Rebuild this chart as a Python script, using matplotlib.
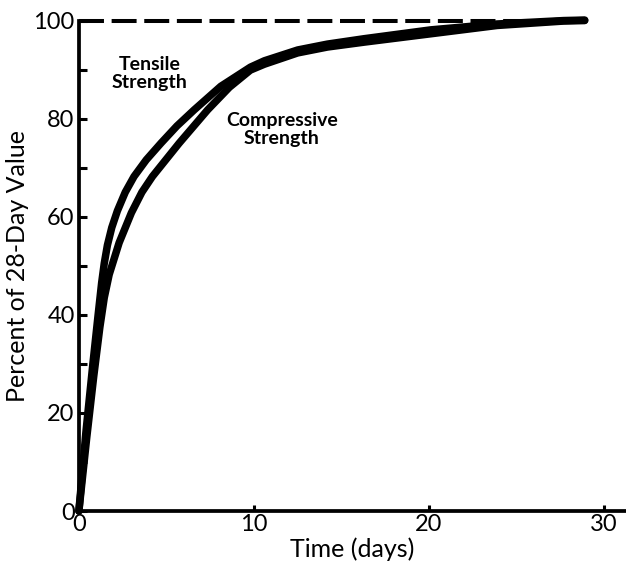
import matplotlib
matplotlib.use("Agg")
import matplotlib.pyplot as plt

plt.rcParams['font.family'] = ['Lato', 'DejaVu Sans']

# Strength gain as percent of the 28-day value
tensile_days = [0, 0.4, 0.8, 1.1, 1.3, 1.45, 1.63, 1.88, 2.2, 2.65, 3.15, 3.85, 4.69,
                5.6, 6.59, 8.11, 9.8, 10.6, 12.5, 14.2, 16.3, 20.1, 23.9, 27.7, 28.9]
tensile_pct = [0, 16, 30, 40, 46.5, 50.5, 54.2, 57.8, 61.2, 65.0, 68.2, 71.6, 75.0,
               78.5, 81.8, 86.6, 90.5, 91.8, 94.0, 95.2, 96.3, 98.1, 99.3, 100.0, 100.1]

compressive_days = [0, 0.45, 0.85, 1.2, 1.45, 1.73, 2.3, 3.0, 3.6, 4.2, 5.73, 7.36,
                    8.6, 9.8, 10.6, 12.5, 14.2, 16.3, 20.1, 23.9, 27.7, 28.9]
compressive_pct = [0, 15, 27.5, 37.5, 43.5, 48.2, 54.7, 60.8, 65.0, 68.2, 75.0, 81.8,
                   86.4, 89.9, 91.1, 93.4, 94.6, 95.6, 97.3, 99.0, 99.9, 100.0]

x_ticks = [0, 10, 20, 30]
y_ticks = [0, 20, 40, 60, 80, 100]
y_minor = [10, 30, 50, 70, 90]

fig = plt.figure(figsize=(6.26, 5.71), dpi=100)
ax = fig.add_axes([0.126, 0.105, 0.874, 0.859])

for days, pct in ((tensile_days, tensile_pct), (compressive_days, compressive_pct)):
    ax.plot(days, pct, color='black', lw=5.4, solid_capstyle='round',
            solid_joinstyle='round', clip_on=False, zorder=3)

# 28-day reference level
ax.plot([0.0, 29.0], [100, 100], color='black', lw=2.9, ls=(0, (6.2, 1.9)),
        clip_on=False, zorder=2)

ax.set_xlim(0, 31.26)
ax.set_ylim(0, 100)

for side in ('top', 'right'):
    ax.spines[side].set_visible(False)
for side in ('left', 'bottom'):
    ax.spines[side].set_linewidth(2.7)

ax.set_xticks(x_ticks)
ax.set_yticks(y_ticks)
ax.set_yticks(y_minor, minor=True)
ax.tick_params(axis='y', which='both', direction='in', length=6, width=2.2,
               labelsize=17, pad=3)
ax.tick_params(axis='x', which='major', direction='in', length=4.5, width=2.2,
               labelsize=17, pad=2)

ax.set_xlabel('Time (days)', fontsize=18, labelpad=2)
ax.set_ylabel('Percent of 28-Day Value', fontsize=18, labelpad=3)

ax.text(4.06, 89.2, 'Tensile\nStrength', ha='center', va='center',
        fontsize=14, fontweight='bold', linespacing=1.1)
ax.text(11.6, 77.8, 'Compressive\nStrength', ha='center', va='center',
        fontsize=14, fontweight='bold', linespacing=1.1)

fig.savefig('out.png', dpi=100)
